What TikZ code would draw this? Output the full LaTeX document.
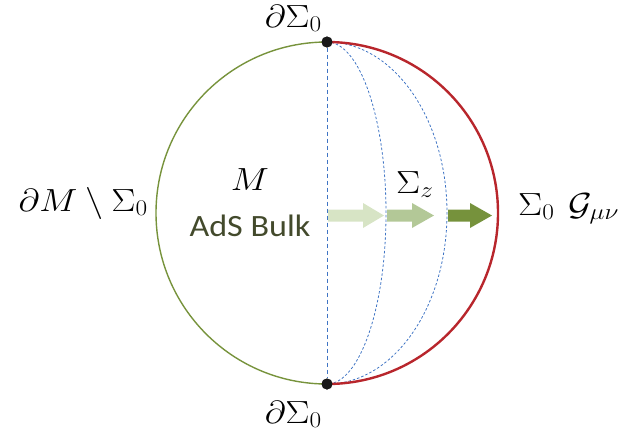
\RequirePackage{fix-cm}
\documentclass[tikz,border=0pt]{standalone}
\usepackage{graphicx}
\usepackage{fontspec}
\newfontfamily\calib{Carlito}
\newcommand{\wide}[1]{\scalebox{1.13}[1]{#1}}
\definecolor{cgreen}{HTML}{77933C}
\definecolor{cred}{HTML}{B8262C}
\definecolor{cblue}{HTML}{3F74C4}
\definecolor{ctext}{HTML}{434A2C}
\definecolor{aone}{HTML}{D7E4C5}
\definecolor{atwo}{HTML}{B3C897}
\definecolor{athree}{HTML}{76923C}
\tikzset{
  lbl/.style={inner sep=0pt, font=\fontsize{32}{38}\selectfont},
  dotnode/.style={circle, fill=black!90, minimum size=11pt, inner sep=0pt},
  arcline/.style={cblue, line width=0.8pt, dash pattern=on 2.5pt off 2pt},
  midline/.style={cblue, line width=1pt, dash pattern=on 4pt off 3pt},
}
\newcommand{\blockarrow}[4]{%
  \fill[#4] (#1,209.5) -- (#2,209.5) -- (#2,203) -- (#3,215.5) -- (#2,228) -- (#2,221.5) -- (#1,221.5) -- cycle;}
\begin{document}
\begin{tikzpicture}[x=1pt,y=-1pt]
\useasboundingbox (0,0) rectangle (626,434);
\coordinate (c) at (327,213);
\node[dotnode] (t) at (327,42) {};
\node[dotnode] (b) at (327,384) {};
% circle halves
\draw[cgreen, line width=1.4pt] (t.center) arc[start angle=-90, end angle=-270, radius=171];
% dashed arcs
\draw[arcline] (t.center) arc[start angle=-90, end angle=90, x radius=59, y radius=171];
\draw[arcline] (t.center) arc[start angle=-90, end angle=90, x radius=120, y radius=171];
\draw[cred, line width=2.4pt] (t.center) arc[start angle=-90, end angle=90, radius=171];
\draw[midline] (t) -- (b);
\node[dotnode] at (t) {};
\node[dotnode] at (b) {};
% arrows
\blockarrow{328}{363}{384}{aone}
\blockarrow{387}{412}{434}{atwo}
\blockarrow{448}{470}{492}{athree}
% labels
\node[lbl, anchor=base east] (lt) at (322,27) {\wide{$\partial\Sigma_0$}};
\node[lbl, anchor=base east] (lb) at (322,423) {\wide{$\partial\Sigma_0$}};
\node[lbl, anchor=base east] (ll) at (148,211) {\wide{$\partial M\setminus\Sigma_0$}};
\node[lbl, anchor=base west] (lr) at (518,215) {\wide{$\Sigma_0$}};
\node[lbl, anchor=base west] (lg) at (568,215) {\wide{$\mathcal{G}_{\mu\nu}$}};
\node[lbl, anchor=base west] (lz) at (396,193) {\wide{$\Sigma_z$}};
\node[lbl, anchor=base] (lm) at (250,190) {\wide{$M$}};
\node[inner sep=0pt, anchor=base, text=ctext, font=\calib\fontsize{31}{36}\selectfont] (la) at (250,236) {\scalebox{1.1}[1]{AdS Bulk}};
\end{tikzpicture}
\end{document}
